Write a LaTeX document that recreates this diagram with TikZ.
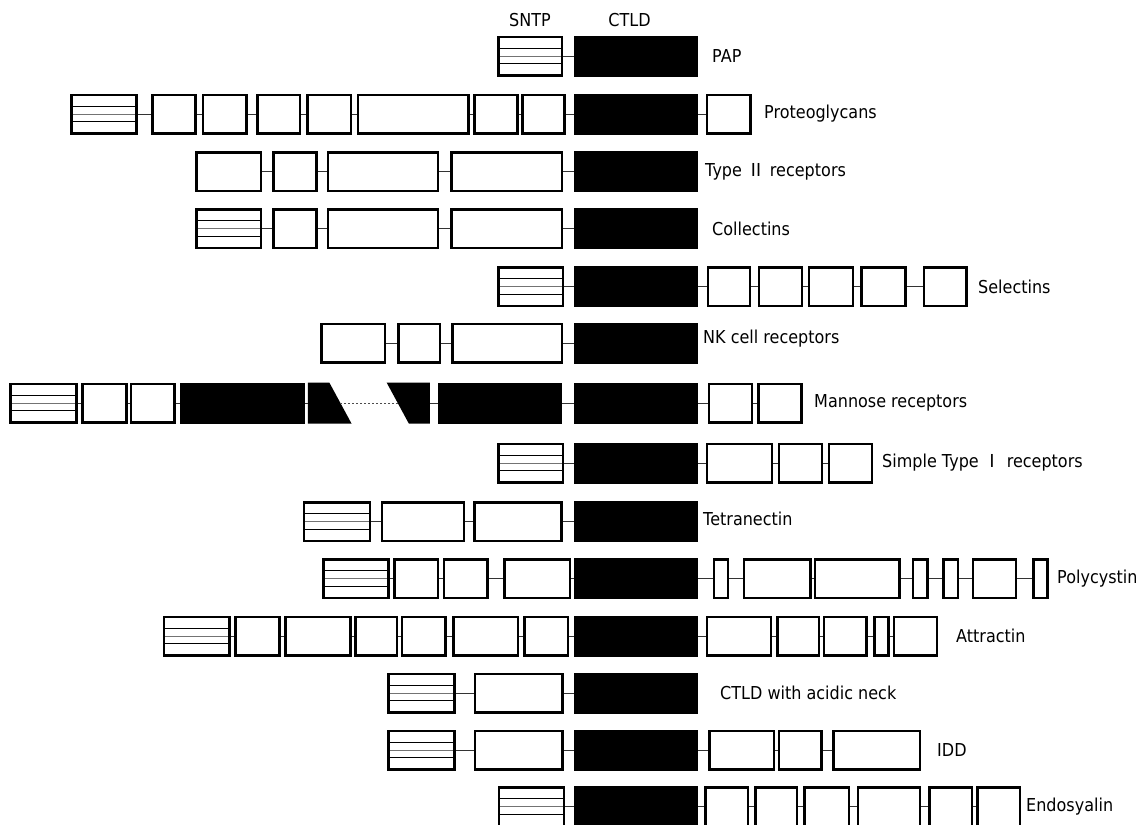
\documentclass[tikz,border=0pt]{standalone}
\usepackage{fontspec}
\setmainfont{DejaVu Sans}[FakeStretch=0.9]
\newfontfamily\cjk{Noto Sans CJK SC}
\usetikzlibrary{calc}
\tikzset{
  wb/.style={draw=black, fill=white, line width=2.5pt, inner sep=0pt, minimum height=38.5pt},
  bb/.style={wb, fill=black},
  sb/.style={wb, path picture={
    \foreach \f/\c in {0.3/black,0.5/black!55,0.7/black}{
      \draw[line width=0.9pt, draw=\c]
        ($(path picture bounding box.north west)!\f!(path picture bounding box.south west)$) --
        ($(path picture bounding box.north east)!\f!(path picture bounding box.south east)$);}}},
  conn/.style={draw=black!80, line width=1pt},
  dotconn/.style={draw=black!70, line width=1pt, dash pattern=on 2pt off 2pt},
  lab/.style={anchor=west, inner sep=0pt, font=\fontsize{17.8}{20}\selectfont},
}
\newcommand\mybox[5][wb]{\pgfmathsetmacro\mbw{#4-#3-2.5}\pgfmathsetmacro\mbx{(#3+#4)/2}\node[#1, minimum width=\mbw pt] (#2) at (\mbx,#5) {};}
\newcommand\cn[2]{\draw[conn] (#1) -- (#2);}
\begin{document}
\begin{tikzpicture}[x=1pt,y=-1pt]
\useasboundingbox (0,0) rectangle (1136,825);
\clip (0,0) rectangle (1136,825);
\fill[white] (0,0) rectangle (1136,825);
% header
\node[lab, anchor=center] (hs) at (530,20) {SNTP};
\node[lab, anchor=center] (hc) at (629.5,20) {CTLD};
% Row 1 PAP
\mybox[sb]{a1}{497}{563}{56}
\mybox[bb]{a2}{574}{698}{56}
\cn{a1}{a2}
\node[lab] (la) at (712,56) {PAP};
% Row 2 Proteoglycans
\mybox[sb]{b1}{70}{137.5}{114}
\mybox{b2}{151.3}{196.7}{114}
\mybox{b3}{201.9}{247.7}{114}
\mybox{b4}{256.3}{301}{114}
\mybox{b5}{306.2}{352}{114}
\mybox{b6}{356.8}{469.8}{114}
\mybox{b7}{473.2}{518.7}{114}
\mybox{b8}{521.4}{565.5}{114}
\mybox[bb]{b9}{574}{698}{114}
\mybox{b10}{705.7}{751.7}{114}
\cn{b1}{b2}\cn{b2}{b3}\cn{b3}{b4}\cn{b4}{b5}\cn{b5}{b6}\cn{b6}{b7}\cn{b7}{b8}\cn{b8}{b9}\cn{b9}{b10}
\node[lab] (lb) at (764,114) {Proteoglycans};
% Row 3 Type II
\mybox{c1}{195}{262.3}{171.5}
\mybox{c2}{272.3}{317.7}{171.5}
\mybox{c3}{326.7}{439}{171.5}
\mybox{c4}{450}{563.3}{171.5}
\mybox[bb]{c5}{574}{698}{171.5}
\cn{c1}{c2}\cn{c2}{c3}\cn{c3}{c4}\cn{c4}{c5}
\node[lab] (lc) at (705,171.5) {Type {\cjk Ⅱ} receptors};
% Row 4 Collectins
\mybox[sb]{d1}{195}{262.3}{228.5}
\mybox{d2}{272.3}{317.7}{228.5}
\mybox{d3}{326.7}{439}{228.5}
\mybox{d4}{450}{563.3}{228.5}
\mybox[bb]{d5}{574}{698}{228.5}
\cn{d1}{d2}\cn{d2}{d3}\cn{d3}{d4}\cn{d4}{d5}
\node[lab] (ld) at (712,228.5) {Collectins};
% Row 5 Selectins
\mybox[sb]{e1}{497}{564}{286.5}
\mybox[bb]{e2}{574}{698}{286.5}
\mybox{e3}{706.8}{751.4}{286.5}
\mybox{e4}{757.9}{803.2}{286.5}
\mybox{e5}{807.9}{854.3}{286.5}
\mybox{e6}{860.4}{906.8}{286.5}
\mybox{e7}{922.9}{967.5}{286.5}
\cn{e1}{e2}\cn{e2}{e3}\cn{e3}{e4}\cn{e4}{e5}\cn{e5}{e6}\cn{e6}{e7}
\node[lab] (le) at (978,286.5) {Selectins};
% Row 6 NK
\mybox{f1}{320}{386}{343}
\mybox{f2}{397}{441}{343}
\mybox{f3}{451}{563}{343}
\mybox[bb]{f4}{574}{698}{343}
\cn{f1}{f2}\cn{f2}{f3}\cn{f3}{f4}
\node[lab] (lf) at (703,339) {NK cell receptors};
% Row 7 Mannose
\mybox[sb]{g1}{9.2}{77.7}{403}
\mybox{g2}{81.4}{127.6}{403}
\mybox{g3}{129.5}{175.7}{403}
\mybox[bb]{g4}{180.2}{305.2}{403}
\fill[black] (307.8,382.5) -- (329.3,382.5) -- (351.5,423.5) -- (307.8,423.5) -- cycle;
\fill[black] (386.6,382.5) -- (429.9,382.5) -- (429.9,423.5) -- (408.8,423.5) -- cycle;
\coordinate (t1w) at (307.8,403);
\coordinate (t1d) at (340.4,403);
\coordinate (t2d) at (397.7,403);
\coordinate (t2e) at (429.9,403);
\mybox[bb]{g5}{438.4}{562.3}{403}
\mybox[bb]{g6}{574}{698}{403}
\mybox{g7}{707.7}{753.3}{403}
\mybox{g8}{757.3}{802.7}{403}
\cn{g1}{g2}\cn{g2}{g3}\cn{g3}{g4}\cn{g4}{t1w}\cn{t2e}{g5}\cn{g5}{g6}\cn{g6}{g7}\cn{g7}{g8}
\draw[dotconn] (t1d) -- (t2d);
\node[lab] (lg) at (814,403) {Mannose receptors};
% Row 8 Simple Type I
\mybox[sb]{h1}{497}{564}{463}
\mybox[bb]{h2}{574}{698}{463}
\mybox{h3}{705.7}{773.3}{463}
\mybox{h4}{777.7}{823.3}{463}
\mybox{h5}{827.7}{873.3}{463}
\cn{h1}{h2}\cn{h2}{h3}\cn{h3}{h4}\cn{h4}{h5}
\node[lab] (lh) at (882,463) {Simple Type {\cjk Ⅰ} receptors};
% Row 9 Tetranectin
\mybox[sb]{i1}{302.7}{371}{521.5}
\mybox{i2}{380.7}{465}{521.5}
\mybox{i3}{473.3}{562.7}{521.5}
\mybox[bb]{i4}{574}{698}{521.5}
\cn{i1}{i2}\cn{i2}{i3}\cn{i3}{i4}
\node[lab] (li) at (703,519) {Tetranectin};
% Row 10 Polycystin
\mybox[sb]{j1}{322}{389.5}{578.5}
\mybox{j2}{393.3}{439}{578.5}
\mybox{j3}{442.7}{488.7}{578.5}
\mybox{j4}{503}{571}{578.5}
\mybox[bb]{j5}{574}{698}{578.5}
\mybox{j6}{712.5}{729}{578.5}
\mybox{j7}{742.6}{811.6}{578.5}
\mybox{j8}{813.5}{900.9}{578.5}
\mybox{j9}{911.6}{928.5}{578.5}
\mybox{j10}{942}{959.3}{578.5}
\mybox{j11}{971.5}{1017.4}{578.5}
\mybox{j12}{1032}{1048.6}{578.5}
\cn{j1}{j2}\cn{j2}{j3}\cn{j3}{j4}\cn{j4}{j5}\cn{j5}{j6}\cn{j6}{j7}\cn{j7}{j8}\cn{j8}{j9}\cn{j9}{j10}\cn{j10}{j11}\cn{j11}{j12}
\node[lab] (lj) at (1057,578.5) {Polycystin};
% Row 11 Attractin
\mybox[sb]{k1}{162.7}{230.7}{636}
\mybox{k2}{234.3}{280.7}{636}
\mybox{k3}{284.3}{351.7}{636}
\mybox{k4}{354}{398.3}{636}
\mybox{k5}{400.7}{446.7}{636}
\mybox{k6}{452}{519.3}{636}
\mybox{k7}{523.3}{569.3}{636}
\mybox[bb]{k8}{574}{698}{636}
\mybox{k9}{705.8}{772.3}{636}
\mybox{k10}{776}{820.1}{636}
\mybox{k11}{822.7}{867.9}{636}
\mybox{k12}{873.4}{889.5}{636}
\mybox{k13}{892.5}{938.4}{636}
\cn{k1}{k2}\cn{k2}{k3}\cn{k3}{k4}\cn{k4}{k5}\cn{k5}{k6}\cn{k6}{k7}\cn{k7}{k8}\cn{k8}{k9}\cn{k9}{k10}\cn{k10}{k11}\cn{k11}{k12}\cn{k12}{k13}
\node[lab] (lk) at (956,636) {Attractin};
% Row 12 CTLD with acidic neck
\mybox[sb]{l1}{387.4}{455.8}{693}
\mybox{l2}{473.6}{563.5}{693}
\mybox[bb]{l3}{574}{698}{693}
\cn{l1}{l2}\cn{l2}{l3}
\node[lab] (ll) at (720,693) {CTLD with acidic neck};
% Row 13 IDD
\mybox[sb]{m1}{387.4}{455.8}{750}
\mybox{m2}{473.6}{563.5}{750}
\mybox[bb]{m3}{574}{698}{750}
\mybox{m4}{708.4}{775}{750}
\mybox{m5}{777.8}{822.6}{750}
\mybox{m6}{832.3}{921.1}{750}
\cn{m1}{m2}\cn{m2}{m3}\cn{m3}{m4}\cn{m4}{m5}\cn{m5}{m6}
\node[lab] (lm) at (937,750) {IDD};
% Row 14 Endosyalin
\mybox[sb]{n1}{497.6}{565}{806.5}
\mybox[bb]{n2}{574}{698}{806.5}
\mybox{n3}{704}{749.3}{806.5}
\mybox{n4}{754.3}{798.3}{806.5}
\mybox{n5}{803.3}{850}{806.5}
\mybox{n6}{856.7}{921}{806.5}
\mybox{n7}{928.3}{973.3}{806.5}
\mybox{n8}{976}{1021}{806.5}
\cn{n1}{n2}\cn{n2}{n3}\cn{n3}{n4}\cn{n4}{n5}\cn{n5}{n6}\cn{n6}{n7}\cn{n7}{n8}
\node[lab] (ln) at (1026,806.5) {Endosyalin};
\end{tikzpicture}
\end{document}
